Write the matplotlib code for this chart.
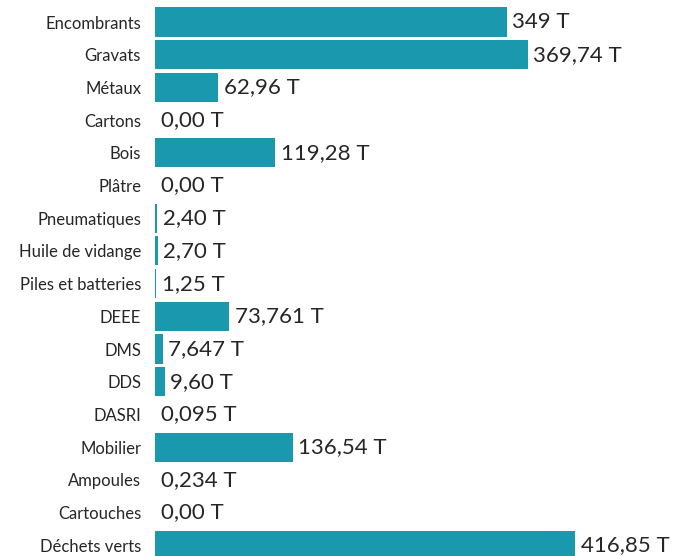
import matplotlib.pyplot as plt

categories = ['Encombrants', 'Gravats', 'Métaux', 'Cartons', 'Bois', 'Plâtre',
              'Pneumatiques', 'Huile de vidange', 'Piles et batteries', 'DEEE',
              'DMS', 'DDS', 'DASRI', 'Mobilier', 'Ampoules', 'Cartouches',
              'Déchets verts']
tonnes = [349, 369.74, 62.96, 0.0, 119.28, 0.0, 2.40, 2.70, 1.25, 73.761,
          7.647, 9.60, 0.095, 136.54, 0.234, 0.0, 416.85]
value_labels = ['349 T', '369,74 T', '62,96 T', '0,00 T', '119,28 T', '0,00 T',
                '2,40 T', '2,70 T', '1,25 T', '73,761 T', '7,647 T', '9,60 T',
                '0,095 T', '136,54 T', '0,234 T', '0,00 T', '416,85 T']

bar_color = '#1a98ae'
text_color = '#262626'

fig = plt.figure(figsize=(6.74, 5.56), dpi=100)
ax = fig.add_axes([155 / 674, 0, 1 - 155 / 674, 1])

pos = list(range(len(categories)))
ax.barh(pos, tonnes, height=0.89, color=bar_color)

for y, v, lab in zip(pos, tonnes, value_labels):
    ax.annotate(lab, xy=(v, y), xytext=(4, 0), textcoords='offset points',
                va='center', ha='left', fontsize=16, family='Lato',
                color=text_color)

ax.set_yticks(pos)
ax.set_yticklabels(categories, family='Lato', fontsize=12, color=text_color)
ax.tick_params(axis='y', length=0, pad=10)
ax.set_xticks([])
ax.set_xlim(0, 515)
ax.set_ylim(16.33, -0.673)
for s in ax.spines.values():
    s.set_visible(False)

fig.savefig('out.png', dpi=100)
